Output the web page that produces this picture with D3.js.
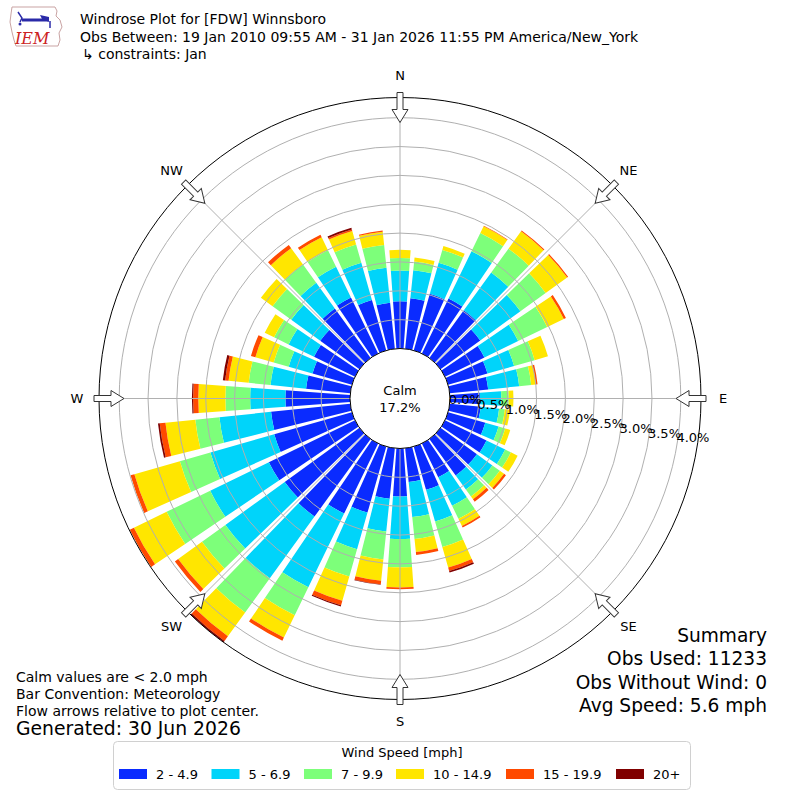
<!DOCTYPE html>
<html>
<head>
<meta charset="utf-8">
<script src="https://cdn.jsdelivr.net/npm/d3@7"></script>
<style>
body { margin: 0; background: #fff; }
text { font-family: "DejaVu Sans", sans-serif; fill: #000; }
</style>
</head>
<body>
<div id="chart"></div>
<script>
// Wind direction (degrees, meteorology convention) and frequency (%) per speed bin
const directions = d3.range(0, 360, 10);
const speed2to5 = [0.82, 0.88, 1.02, 1.06, 1.02, 0.85, 0.76, 0.71, 0.67, 0.52, 0.54, 0.67,
                   0.80, 0.78, 0.78, 0.65, 0.78, 0.59, 0.83, 0.88, 1.19, 1.35, 1.66, 1.60,
                   1.66, 1.40, 1.38, 1.12, 0.77, 0.71, 0.79, 0.84, 1.06, 1.08, 0.91, 0.80];
const speed5to7 = [0.53, 0.49, 0.56, 0.91, 0.81, 0.86, 0.65, 0.48, 0.54, 0.37, 0.32, 0.24,
                   0.36, 0.33, 0.30, 0.55, 0.57, 0.61, 0.74, 0.57, 0.66, 1.42, 1.32, 1.27,
                   1.13, 1.15, 0.90, 0.61, 0.62, 0.43, 0.49, 0.62, 0.55, 0.59, 0.67, 0.61];
const speed7to10 = [0.22, 0.15, 0.23, 0.35, 0.51, 0.54, 0.56, 0.37, 0.21, 0.13, 0.10, 0.12,
                    0.11, 0.16, 0.15, 0.25, 0.46, 0.38, 0.49, 0.49, 0.49, 0.54, 0.73, 0.50,
                    0.84, 0.55, 0.42, 0.43, 0.38, 0.27, 0.28, 0.40, 0.39, 0.32, 0.33, 0.40];
const speed10to15 = [0.14, 0.07, 0.07, 0.13, 0.37, 0.46, 0.32, 0.24, 0.08, 0.08, 0.09, 0.09,
                     0.13, 0.09, 0.06, 0.14, 0.37, 0.23, 0.35, 0.37, 0.44, 0.43, 0.51, 0.51,
                     0.63, 0.82, 0.52, 0.47, 0.35, 0.33, 0.18, 0.25, 0.35, 0.25, 0.24, 0.23];
const speed15to20 = [0, 0, 0, 0.01, 0.02, 0.02, 0.04, 0, 0.03, 0, 0, 0,
                     0, 0.04, 0.05, 0.03, 0.06, 0.05, 0.03, 0.06, 0.08, 0.06, 0.10, 0.07,
                     0.08, 0.07, 0.10, 0.09, 0.06, 0.08, 0, 0, 0.07, 0.05, 0.03, 0.02];
const speed20plus = [0, 0, 0, 0, 0, 0, 0, 0, 0, 0, 0, 0,
                     0, 0, 0, 0, 0.03, 0, 0, 0.01, 0.02, 0, 0.03, 0,
                     0, 0, 0.03, 0.02, 0.04, 0, 0, 0, 0, 0, 0.03, 0];

const speedLabels = ["2 - 4.9", "5 - 6.9", "7 - 9.9", "10 - 14.9", "15 - 19.9", "20+"];
const speedColors = ["#0a2bff", "#00d4fa", "#7dff7a", "#ffe600", "#ff4a00", "#800000"];
const ringTicks = [0, 0.5, 1.0, 1.5, 2.0, 2.5, 3.0, 3.5, 4.0];
const compassNames = ["N", "NE", "E", "SE", "S", "SW", "W", "NW"];
const compassAngles = [0, 45, 90, 135, 180, 225, 270, 315];
const calmPct = 17.2;

const width = 800;
const height = 800;
const cx = 400, cy = 398.5;
const calmR = 50, outerR = 301;
const toRad = Math.PI / 180;

const svg = d3.select("#chart")
    .append("svg")
    .attr("width", width)
    .attr("height", height);

// radial scale: 0% sits on the calm circle
const r = d3.scaleLinear().domain([0, 4.35]).range([calmR, outerR]);

// Stack the speed bins per direction
const keys = ["s0", "s1", "s2", "s3", "s4", "s5"];
const bins = [speed2to5, speed5to7, speed7to10, speed10to15, speed15to20, speed20plus];
const rows = directions.map((d, i) => {
    const row = { dir: d };
    keys.forEach((k, j) => row[k] = bins[j][i]);
    return row;
});
const stacked = d3.stack().keys(keys)(rows);

const plot = svg.append("g").attr("transform", `translate(${cx},${cy})`);

svg.append("defs").append("clipPath").attr("id", "clip")
    .append("circle").attr("r", outerR);

const halfWidth = 4.1 * toRad;
const arc = d3.arc();

plot.append("g")
    .attr("clip-path", "url(#clip)")
    .selectAll("g")
    .data(stacked)
    .enter().append("g")
    .attr("fill", (d, i) => speedColors[i])
    .selectAll("path")
    .data(d => d.filter(s => s[1] - s[0] > 0))
    .enter().append("path")
    .attr("d", s => arc({
        innerRadius: r(s[0]),
        outerRadius: r(s[1]),
        startAngle: s.data.dir * toRad - halfWidth,
        endAngle: s.data.dir * toRad + halfWidth
    }));

// Grid rings
plot.append("g")
    .selectAll("circle")
    .data(ringTicks.slice(1))
    .enter().append("circle")
    .attr("r", d => r(d))
    .attr("fill", "none")
    .attr("stroke", "#b0b0b0")
    .attr("stroke-width", 1);

// Spokes
plot.append("g")
    .selectAll("line")
    .data(compassAngles)
    .enter().append("line")
    .attr("x1", d => calmR * Math.sin(d * toRad))
    .attr("y1", d => -calmR * Math.cos(d * toRad))
    .attr("x2", d => outerR * Math.sin(d * toRad))
    .attr("y2", d => -outerR * Math.cos(d * toRad))
    .attr("stroke", "#b0b0b0")
    .attr("stroke-width", 1);

// Outer frame
plot.append("circle")
    .attr("r", outerR)
    .attr("fill", "none")
    .attr("stroke", "#000")
    .attr("stroke-width", 1);

// Calm circle
plot.append("circle")
    .attr("r", calmR)
    .attr("fill", "#fff")
    .attr("stroke", "#000")
    .attr("stroke-width", 1);
plot.append("text").attr("y", -8).attr("text-anchor", "middle")
    .attr("dominant-baseline", "central").style("font-size", "13px").text("Calm");
plot.append("text").attr("y", 8.5).attr("text-anchor", "middle")
    .attr("dominant-baseline", "central").style("font-size", "13px").text(calmPct.toFixed(1) + "%");

// Radial tick labels
const labelAngle = 9.5 * toRad;
plot.append("g")
    .selectAll("text")
    .data(ringTicks)
    .enter().append("text")
    .attr("x", d => r(d) * Math.cos(labelAngle) + 16)
    .attr("y", d => r(d) * Math.sin(labelAngle) - 7)
    .attr("text-anchor", "middle")
    .attr("dominant-baseline", "central")
    .style("font-size", "13px")
    .text(d => d.toFixed(1) + "%");

// Flow arrows pointing to the centre
const arrowPath = "M0,-276 L8,-289 L3,-289 L3,-306 L-3,-306 L-3,-289 L-8,-289 Z";
plot.append("g")
    .selectAll("path")
    .data(compassAngles)
    .enter().append("path")
    .attr("d", arrowPath)
    .attr("transform", d => `rotate(${d})`)
    .attr("fill", "#fff")
    .attr("stroke", "#333")
    .attr("stroke-width", 1);

// Compass labels
plot.append("g")
    .selectAll("text")
    .data(compassAngles)
    .enter().append("text")
    .attr("x", d => 323 * Math.sin(d * toRad))
    .attr("y", d => -323 * Math.cos(d * toRad))
    .attr("text-anchor", "middle")
    .attr("dominant-baseline", "central")
    .style("font-size", "13px")
    .text((d, i) => compassNames[i]);

// Header
const header = [
    { t: "Windrose Plot for [FDW] Winnsboro", x: 80, y: 24 },
    { t: "Obs Between: 19 Jan 2010 09:55 AM - 31 Jan 2026 11:55 PM America/New_York", x: 80, y: 42 },
    { t: "\u21b3 constraints: Jan", x: 82, y: 59 }
];
svg.append("g").selectAll("text").data(header).enter().append("text")
    .attr("x", d => d.x).attr("y", d => d.y)
    .style("font-size", "14px").text(d => d.t);

// IEM logo (rough)
const logo = svg.append("g");
logo.append("path")
    .attr("d", "M12,7 L55,7 L57,11 L56,16 L60,20 L62,27 L59,33 L60,40 L58,46 L16,46 L14,40 L12,32 L10,22 L11,14 Z")
    .attr("fill", "none").attr("stroke", "#c9a3a3").attr("stroke-width", 1);
logo.append("line").attr("x1", 22).attr("y1", 20).attr("x2", 48).attr("y2", 20)
    .attr("stroke", "#2a2aa8").attr("stroke-width", 3);
logo.append("path").attr("d", "M40,15 L49,17 L49,22 L42,19 Z").attr("fill", "#2a2aa8");
logo.append("path").attr("d", "M18,12 L22,18 L20,22").attr("fill", "none")
    .attr("stroke", "#2a2aa8").attr("stroke-width", 1.5);
logo.append("circle").attr("cx", 20).attr("cy", 24).attr("r", 1.5).attr("fill", "#2a2aa8");
logo.append("line").attr("x1", 50).attr("y1", 21).attr("x2", 50).attr("y2", 28)
    .attr("stroke", "#2a2aa8").attr("stroke-width", 1.5);
logo.append("text").attr("x", 15).attr("y", 44)
    .style("font-family", "'DejaVu Serif', serif").style("font-style", "italic")
    .style("font-size", "16px").style("fill", "#cc2222").text("IEM");

// Footer left
const notes = [
    { t: "Calm values are < 2.0 mph", y: 682, s: 14 },
    { t: "Bar Convention: Meteorology", y: 699, s: 14 },
    { t: "Flow arrows relative to plot center.", y: 716, s: 14 },
    { t: "Generated: 30 Jun 2026", y: 735, s: 18.8 }
];
svg.append("g").selectAll("text").data(notes).enter().append("text")
    .attr("x", 16).attr("y", d => d.y)
    .style("font-size", d => d.s + "px").text(d => d.t);

// Summary right
const summary = ["Summary", "Obs Used: 11233", "Obs Without Wind: 0", "Avg Speed: 5.6 mph"];
svg.append("g").selectAll("text").data(summary).enter().append("text")
    .attr("x", 767).attr("y", (d, i) => 642 + i * 23.3)
    .attr("text-anchor", "end")
    .style("font-size", "18.6px").text(d => d);

// Legend
const legend = svg.append("g");
legend.append("rect")
    .attr("x", 113.5).attr("y", 741.5).attr("width", 577).attr("height", 48)
    .attr("rx", 4).attr("fill", "#fff").attr("stroke", "#d0d0d0").attr("stroke-width", 1);
legend.append("text").attr("x", 402).attr("y", 757).attr("text-anchor", "middle")
    .style("font-size", "13px").text("Wind Speed [mph]");
const legendX = [119, 211.5, 304, 396, 506, 616];
const item = legend.selectAll("g.item").data(speedLabels).enter().append("g")
    .attr("class", "item")
    .attr("transform", (d, i) => `translate(${legendX[i]}, 769)`);
item.append("rect").attr("width", 28).attr("height", 10)
    .attr("fill", (d, i) => speedColors[i]);
item.append("text").attr("x", 37).attr("y", 10)
    .style("font-size", "13px").text(d => d);
</script>
</body>
</html>
